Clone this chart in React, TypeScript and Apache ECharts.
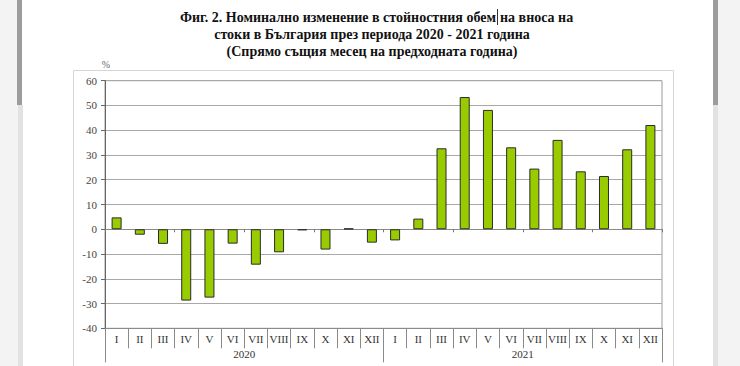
import React, { useEffect, useRef } from "react";
import * as echarts from "echarts";

const months = ["I", "II", "III", "IV", "V", "VI", "VII", "VIII", "IX", "X", "XI", "XII"];
const years = ["2020", "2021"];
const categories = years.flatMap((y) => months.map((m) => `${m} ${y}`));
const monthLabels = [...months, ...months];
const values2020 = [4.8, -2.2, -5.9, -28.8, -27.6, -5.8, -14.3, -9.3, -0.4, -8.2, 0.3, -5.4];
const values2021 = [-4.5, 4.3, 32.7, 53.4, 48.2, 33.1, 24.5, 36.1, 23.4, 21.5, 32.3, 42.1];
const values = [...values2020, ...values2021];
const titleLine1a = "Фиг. 2. Номинално изменение в стойностния обем";
const titleLine1b = "на вноса на";
const titleLines = [
  "стоки в България през периода 2020 - 2021 година",
  "(Спрямо същия месец на предходната година)",
];

const SERIF = "'Liberation Serif', 'DejaVu Serif', serif";
const AXIS_FONT = "Liberation Serif";

export default function App() {
  const ref = useRef<HTMLDivElement>(null);
  useEffect(() => {
    if (!ref.current) return;
    const chart = echarts.init(ref.current, null, { renderer: "svg" });
    const gridTop = 80.7;
    const gridBottom = 366 - 328.3;
    const titleFont = `bold 14px ${SERIF}`;
    chart.setOption({
      animation: false,
      backgroundColor: "#ffffff",
      textStyle: { fontFamily: AXIS_FONT },
      grid: {
        left: 105,
        right: 740 - 662,
        top: gridTop,
        bottom: gridBottom,
        show: true,
        borderColor: "#9a9a9a",
        borderWidth: 1,
        backgroundColor: "transparent",
      },
      graphic: [
        { type: "rect", shape: { x: 0, y: 0, width: 18, height: 366 }, style: { fill: "#f3f3f3" }, silent: true },
        { type: "rect", shape: { x: 17, y: 0, width: 5, height: 105 }, style: { fill: "#9c9c9c" }, silent: true },
        { type: "rect", shape: { x: 18, y: 105, width: 5, height: 261 }, style: { fill: "#e2e2e2" }, silent: true },
        { type: "rect", shape: { x: 718, y: 0, width: 22, height: 366 }, style: { fill: "#f3f3f3" }, silent: true },
        { type: "rect", shape: { x: 713, y: 0, width: 5, height: 105 }, style: { fill: "#9c9c9c" }, silent: true },
        { type: "rect", shape: { x: 713, y: 105, width: 5, height: 261 }, style: { fill: "#e2e2e2" }, silent: true },
        {
          type: "rect",
          shape: { x: 73.5, y: 70.5, width: 600, height: 320 },
          style: { fill: "none", stroke: "#d6d6d6", lineWidth: 1 },
          silent: true,
          z: -1,
        },
        {
          type: "text",
          x: 496,
          y: 17,
          style: { text: titleLine1a, font: titleFont, fill: "#111", textAlign: "right", textVerticalAlign: "middle" },
          silent: true,
        },
        {
          type: "text",
          x: 500,
          y: 17,
          style: { text: titleLine1b, font: titleFont, fill: "#111", textAlign: "left", textVerticalAlign: "middle" },
          silent: true,
        },
        ...titleLines.map((t, i) => ({
          type: "text",
          x: 372,
          y: 34 + i * 17,
          style: {
            text: t,
            font: titleFont,
            fill: "#111",
            textAlign: "center",
            textVerticalAlign: "middle",
          },
          silent: true,
        })),
        {
          type: "line",
          shape: { x1: 497.5, y1: 9, x2: 497.5, y2: 25 },
          style: { stroke: "#333", lineWidth: 1 },
          silent: true,
        },
        {
          type: "text",
          x: 106,
          y: 64,
          style: { text: "%", font: `10px ${SERIF}`, fill: "#666", textAlign: "center", textVerticalAlign: "middle" },
          silent: true,
        },
      ],
      xAxis: [
        {
          type: "category",
          data: categories,
          axisLine: { onZero: true, lineStyle: { color: "#8a8a8a", width: 1 } },
          axisTick: { show: true, length: 3, lineStyle: { color: "#777" } },
          axisLabel: { show: false },
          splitLine: { show: false },
        },
        {
          type: "category",
          data: monthLabels,
          position: "bottom",
          axisLine: { onZero: false, show: true, lineStyle: { color: "#8a8a8a" } },
          axisTick: { show: true, length: 20, lineStyle: { color: "#8a8a8a" } },
          axisLabel: {
            show: true,
            interval: 0,
            margin: 5,
            fontFamily: AXIS_FONT,
            fontSize: 11,
            color: "#333",
          },
        },
        {
          type: "category",
          data: years,
          position: "bottom",
          axisLine: { onZero: false, show: false },
          axisTick: { show: true, length: 34, lineStyle: { color: "#8a8a8a" } },
          axisLabel: {
            show: true,
            interval: 0,
            margin: 20,
            fontFamily: AXIS_FONT,
            fontSize: 11,
            color: "#333",
          },
        },
      ],
      yAxis: {
        type: "value",
        min: -40,
        max: 60,
        interval: 10,
        axisLine: { show: true, lineStyle: { color: "#666" } },
        axisTick: { show: true, length: 4, lineStyle: { color: "#666" } },
        axisLabel: { fontFamily: AXIS_FONT, fontSize: 11, color: "#444", margin: 8 },
        splitLine: { show: true, lineStyle: { color: "#a8a8a8", width: 1 } },
      },
      series: [
        {
          type: "bar",
          xAxisIndex: 0,
          data: values,
          barWidth: 10,
          itemStyle: { color: "#99cc00", borderColor: "#2b2b2b", borderWidth: 1 },
        },
      ],
    });
    return () => chart.dispose();
  }, []);
  return (
    <div
      ref={ref}
      style={{ position: "fixed", left: 0, top: 0, width: 740, height: 366 }}
    />
  );
}
